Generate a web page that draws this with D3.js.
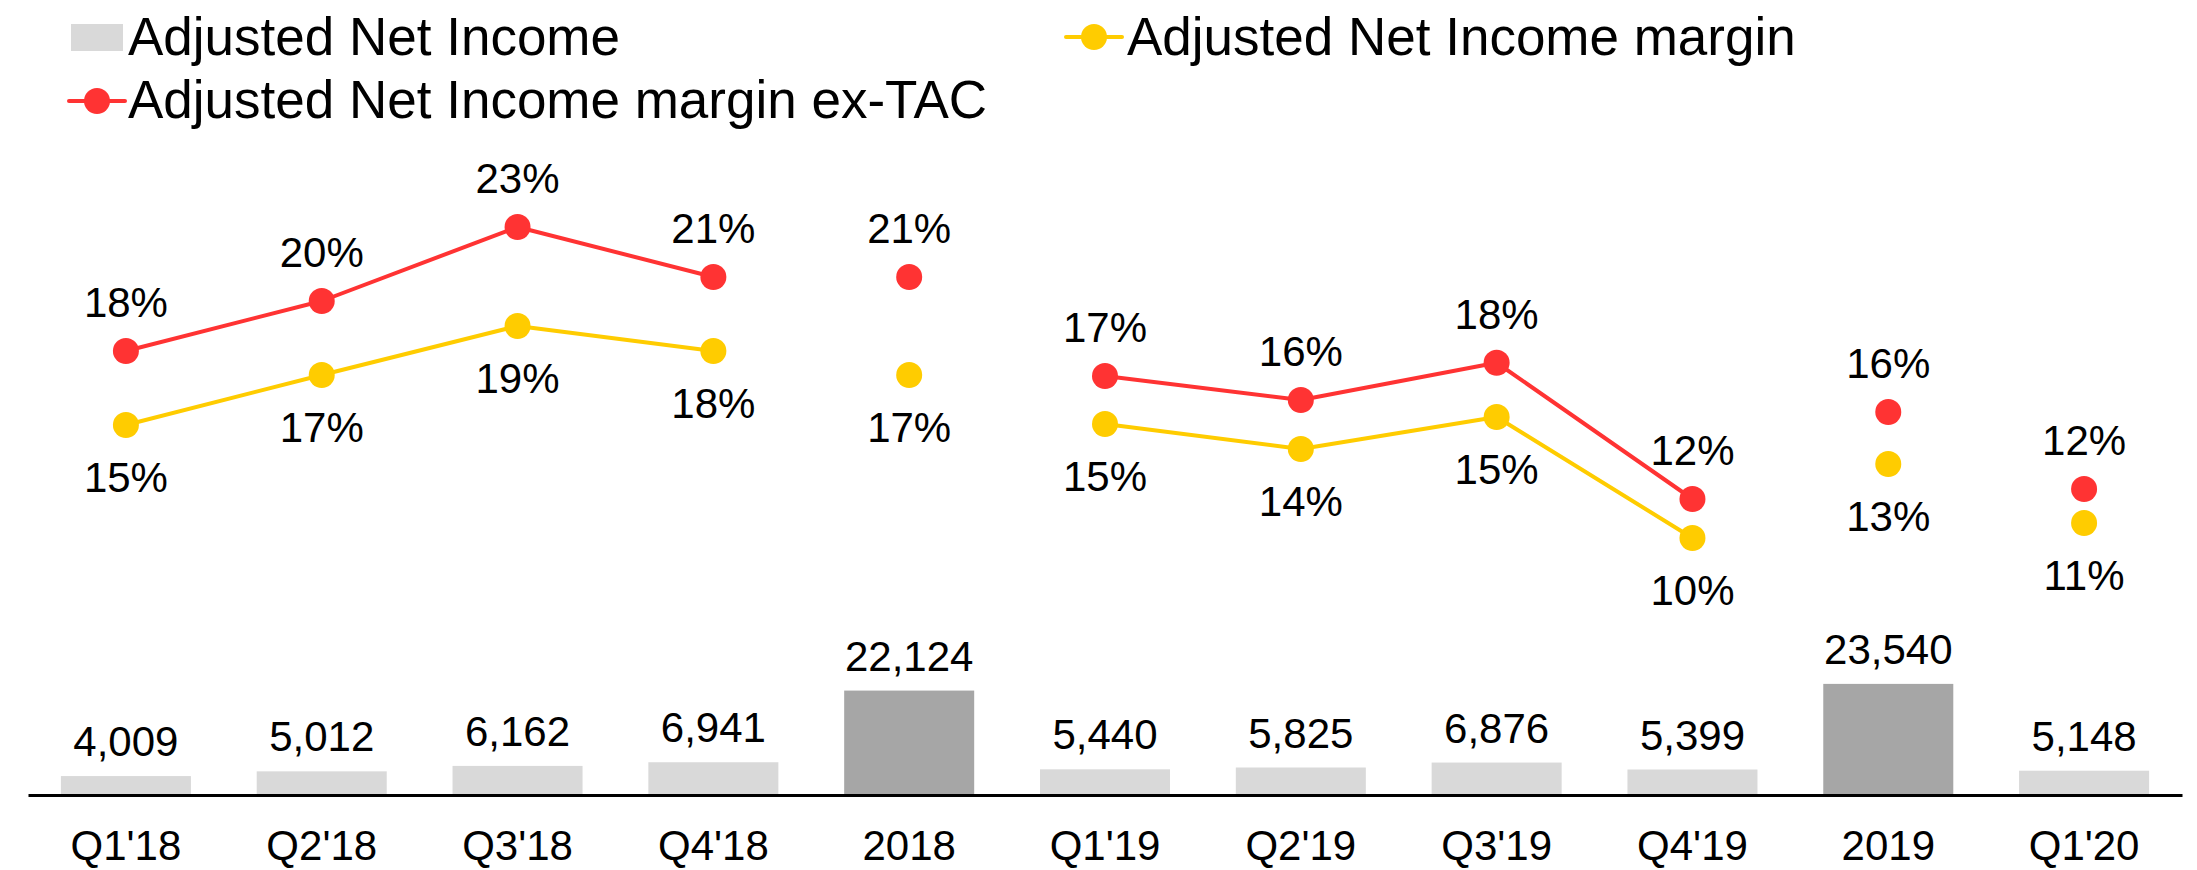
<!DOCTYPE html>
<html>
<head>
<meta charset="utf-8">
<script src="https://cdn.jsdelivr.net/npm/d3@7"></script>
<style>
  html, body { margin: 0; padding: 0; background: #fff; }
  svg { display: block; font-family: "Liberation Sans", Arial, sans-serif; }
</style>
</head>
<body>
<svg id="chart" width="2197" height="870"></svg>
<script>
// ---- Data ----
const categories = ["Q1'18", "Q2'18", "Q3'18", "Q4'18", "2018", "Q1'19", "Q2'19", "Q3'19", "Q4'19", "2019", "Q1'20"];
const netIncome = [4009, 5012, 6162, 6941, 22124, 5440, 5825, 6876, 5399, 23540, 5148];
const isAnnual = [false, false, false, false, true, false, false, false, false, true, false];
const marginExTAC = [18.0, 20.0, 22.96, 20.96, 20.96, 17.0, 16.04, 17.53, 12.08, 15.56, 12.48];
const marginExTACLabels = ["18%", "20%", "23%", "21%", "21%", "17%", "16%", "18%", "12%", "16%", "12%"];
const margin = [15.04, 17.04, 19.0, 18.0, 17.04, 15.08, 14.08, 15.36, 10.52, 13.48, 11.12];
const marginLabels = ["15%", "17%", "19%", "18%", "17%", "15%", "14%", "15%", "10%", "13%", "11%"];
// which points are joined by a line (same group id = connected)
const lineGroup = [0, 0, 0, 0, 1, 2, 2, 2, 2, 3, 4];
const legendItems = ["Adjusted Net Income", "Adjusted Net Income margin", "Adjusted Net Income margin ex-TAC"];

// ---- Styles ----
const RED = "#ff3333", YELLOW = "#ffcc00", BAR_LIGHT = "#d9d9d9", BAR_DARK = "#a6a6a6";
const FONT = 42;

const svg = d3.select("#chart");

const x = d3.scaleBand().domain(categories).range([28, 2182]).paddingInner(0.336).paddingOuter(0.168);
const yBar = d3.scaleLinear().domain([0, 25000]).range([795, 677]);
const yPct = d3.scaleLinear().domain([0, 18]).range([801, 351]);
const cx = c => x(c) + x.bandwidth() / 2;

// ---- Bars ----
svg.append("g").selectAll("rect").data(categories).join("rect")
  .attr("x", d => x(d))
  .attr("y", (d, i) => yBar(netIncome[i]))
  .attr("width", x.bandwidth())
  .attr("height", (d, i) => yBar(0) - yBar(netIncome[i]))
  .attr("fill", (d, i) => isAnnual[i] ? BAR_DARK : BAR_LIGHT);

svg.append("g").selectAll("text").data(categories).join("text")
  .attr("x", d => cx(d))
  .attr("y", (d, i) => yBar(netIncome[i]) - 20)
  .attr("text-anchor", "middle")
  .attr("font-size", FONT)
  .attr("fill", "#000")
  .text((d, i) => d3.format(",")(netIncome[i]));

// ---- Axis ----
const axis = svg.append("g").attr("transform", `translate(0,${yBar(0)})`)
  .call(d3.axisBottom(x).tickSize(0).tickPadding(0));
axis.select(".domain").attr("stroke", "#000").attr("stroke-width", 3);
axis.selectAll(".tick text")
  .attr("font-size", FONT)
  .attr("font-family", "Liberation Sans, Arial, sans-serif")
  .attr("fill", "#000")
  .attr("dy", null)
  .attr("y", 65);

// ---- Lines ----
function drawSeries(values, labels, color, labelAbove) {
  const pts = categories.map((c, i) => ({ c, v: values[i], g: lineGroup[i], label: labels[i] }));
  const groups = d3.groups(pts, d => d.g);
  const line = d3.line().x(d => cx(d.c)).y(d => yPct(d.v));
  const g = svg.append("g");
  g.selectAll("path").data(groups.filter(gr => gr[1].length > 1)).join("path")
    .attr("d", gr => line(gr[1]))
    .attr("fill", "none")
    .attr("stroke", color)
    .attr("stroke-width", 4)
    .attr("stroke-linejoin", "round");
  g.selectAll("circle").data(pts).join("circle")
    .attr("cx", d => cx(d.c))
    .attr("cy", d => yPct(d.v))
    .attr("r", 13)
    .attr("fill", color);
  g.selectAll("text").data(pts).join("text")
    .attr("x", d => cx(d.c))
    .attr("y", d => yPct(d.v) + (labelAbove ? -34 : 67))
    .attr("text-anchor", "middle")
    .attr("font-size", FONT)
    .attr("fill", "#000")
    .text(d => d.label);
}
drawSeries(margin, marginLabels, YELLOW, false);
drawSeries(marginExTAC, marginExTACLabels, RED, true);

// ---- Legend ----
const LFONT = 53;
const leg = svg.append("g");
// item 1: bar
leg.append("rect").attr("x", 71).attr("y", 24).attr("width", 52).attr("height", 27).attr("fill", BAR_LIGHT);
leg.append("text").attr("x", 128).attr("y", 55).attr("font-size", LFONT).attr("fill", "#000").text(legendItems[0]);
// item 2: yellow line marker
function lineMarker(xc, yc, color) {
  leg.append("line").attr("x1", xc - 28).attr("x2", xc + 28).attr("y1", yc).attr("y2", yc)
    .attr("stroke", color).attr("stroke-width", 4).attr("stroke-linecap", "round");
  leg.append("circle").attr("cx", xc).attr("cy", yc).attr("r", 13).attr("fill", color);
}
lineMarker(1094, 37, YELLOW);
leg.append("text").attr("x", 1127).attr("y", 55).attr("font-size", LFONT).attr("fill", "#000").text(legendItems[1]);
// item 3: red line marker
lineMarker(97, 101, RED);
leg.append("text").attr("x", 128).attr("y", 118).attr("font-size", LFONT).attr("fill", "#000").text(legendItems[2]);
</script>
</body>
</html>
